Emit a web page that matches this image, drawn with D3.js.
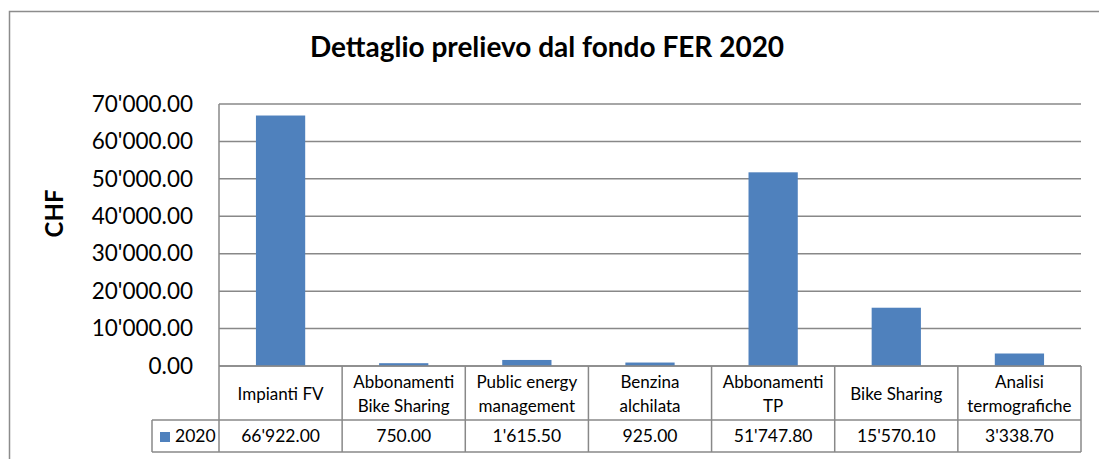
<!DOCTYPE html>
<html><head><meta charset="utf-8">
<script src="https://cdn.jsdelivr.net/npm/d3@7"></script>
<style>body{margin:0;background:#fff}svg{display:block;font-family:Lato,"Open Sans",sans-serif}</style>
</head><body><svg id="c" width="1099" height="459"></svg>
<script>
const categories = [["Impianti FV"],["Abbonamenti","Bike Sharing"],["Public energy","management"],["Benzina","alchilata"],["Abbonamenti","TP"],["Bike Sharing"],["Analisi","termografiche"]];
const values = [66922.00, 750.00, 1615.50, 925.00, 51747.80, 15570.10, 3338.70];
const seriesName = "2020";
const yTicks = [0,10000,20000,30000,40000,50000,60000,70000];
const title = "Dettaglio prelievo dal fondo FER 2020";
const yLabel = "CHF";

const fmt = v => { const s = v.toFixed(2); const [i,d] = s.split("."); return i.replace(/\B(?=(\d{3})+(?!\d))/g,"'") + "." + d; };

const svg = d3.select("#c");
const L=219, R=1081, T=104, B=366;
const gridCol="#888888";
// outer border
svg.append("rect").attr("x",9.5).attr("y",11.5).attr("width",1200).attr("height",500).attr("fill","#fff").attr("stroke","#8c8c8c").attr("stroke-width",1.5);

const x = d3.scaleBand().domain(d3.range(values.length)).range([L,R]).paddingInner(0).paddingOuter(0);
const y = d3.scaleLinear().domain([0,70000]).range([B,T]);

svg.append("text").attr("x",547).attr("y",57).attr("text-anchor","middle").attr("font-weight","bold").attr("font-size",28).text(title);

// gridlines
svg.append("g").selectAll("line").data(yTicks).join("line")
  .attr("x1",L).attr("x2",R).attr("y1",d=>y(d)).attr("y2",d=>y(d)).attr("stroke",gridCol).attr("stroke-width",1.5);
svg.append("line").attr("x1",L).attr("x2",L).attr("y1",T).attr("y2",B).attr("stroke",gridCol).attr("stroke-width",1.5);

// y axis labels
const yAxis = d3.axisLeft(y).tickValues(yTicks).tickFormat(fmt).tickSize(0).tickPadding(26);
const ga = svg.append("g").attr("transform",`translate(${L},0)`).call(yAxis);
ga.select(".domain").remove();
ga.selectAll("text").attr("font-size",22.5).attr("font-family","Lato,'Open Sans',sans-serif").attr("fill","#000");

svg.append("text").attr("transform",`translate(63,213.5) rotate(-90)`).attr("text-anchor","middle").attr("font-weight","bold").attr("font-size",24).text(yLabel);

// bars
const bw = x.bandwidth()*0.4;
svg.append("g").selectAll("rect").data(values).join("rect")
  .attr("x",(d,i)=>x(i)+(x.bandwidth()-bw)/2).attr("width",bw)
  .attr("y",d=>y(d)).attr("height",d=>B-y(d)).attr("fill","#4F81BD");

// table
const H1=366, H2=420, H3=452, LL=152;
const tg = svg.append("g");
const ln=(x1,y1,x2,y2)=>tg.append("line").attr("x1",x1).attr("y1",y1).attr("x2",x2).attr("y2",y2).attr("stroke",gridCol).attr("stroke-width",1.5);
ln(L,H1,R,H1); ln(LL,H2,R,H2); ln(LL,H3,R,H3); ln(LL,H2,LL,H3);
d3.range(values.length+1).forEach(i=>{ const xx = i<values.length? x(i): R; ln(xx,H1,xx,H3); });
categories.forEach((c,i)=>{
  const cx = x(i)+x.bandwidth()/2;
  const t = tg.append("text").attr("text-anchor","middle").attr("font-size",17);
  const n=c.length, lh=24;
  c.forEach((s,k)=>t.append("tspan").attr("x",cx).attr("y",400+(k-(n-1)/2)*lh).text(s));
});
values.forEach((v,i)=>{
  tg.append("text").attr("x",x(i)+x.bandwidth()/2).attr("y",442).attr("text-anchor","middle").attr("font-size",17.5).text(fmt(v));
});
tg.append("rect").attr("x",160).attr("y",432).attr("width",10).attr("height",10).attr("fill","#4F81BD");
tg.append("text").attr("x",175).attr("y",442).attr("font-size",17.5).text(seriesName);
</script></body></html>
